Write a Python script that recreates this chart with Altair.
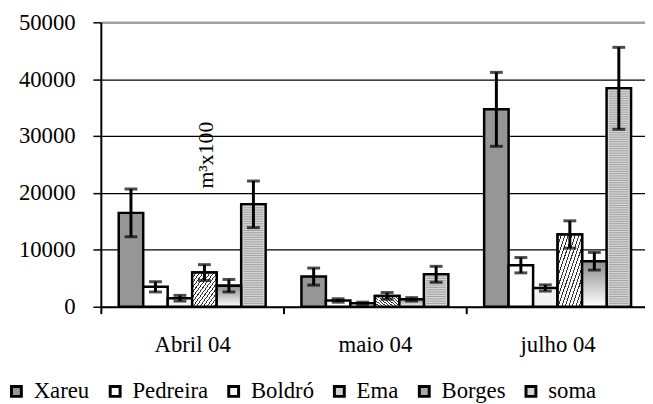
import altair as alt
import pandas as pd

months = ["Abril 04", "maio 04", "julho 04"]
series = ["Xareu", "Pedreira", "Boldró", "Ema", "Borges", "soma"]

xareu = [16500, 5300, 34700]
xareu_err = [4200, 1500, 6500]
pedreira = [3500, 1100, 7300]
pedreira_err = [900, 300, 1350]
boldro = [1500, 600, 3300]
boldro_err = [500, 200, 550]
ema = [6000, 1900, 12700]
ema_err = [1400, 600, 2400]
borges = [3700, 1300, 8000]
borges_err = [1100, 300, 1550]
soma = [18000, 5700, 38400]
soma_err = [4100, 1400, 7200]

y_ticks = [0, 10000, 20000, 30000, 40000, 50000]

table = {
    "Xareu": (xareu, xareu_err),
    "Pedreira": (pedreira, pedreira_err),
    "Boldró": (boldro, boldro_err),
    "Ema": (ema, ema_err),
    "Borges": (borges, borges_err),
    "soma": (soma, soma_err),
}
rows = []
for s in series:
    vals, errs = table[s]
    for m, v, e in zip(months, vals, errs):
        rows.append({"mes": m, "serie": s, "valor": v, "lo": v - e, "hi": v + e})
df = pd.DataFrame(rows)

FONT = "'Liberation Serif', 'Times New Roman', Times, serif"
legend_colors = ["#969696", "#ffffff", "#f3f3f3", "#d2d2d2", "#a8a8a8", "#d6d6d6"]

# hatch gradient for Ema
hatch_stops = []
N = 14
for i in range(N):
    a = i / N
    b = (i + 0.3) / N
    c = (i + 1) / N
    hatch_stops += [
        {"offset": a, "color": "#333333"},
        {"offset": b, "color": "#333333"},
        {"offset": b, "color": "#ffffff"},
        {"offset": c, "color": "#ffffff"},
    ]
ema_fill = {"gradient": "linear", "x1": 0, "y1": 0, "x2": 1, "y2": 1, "stops": hatch_stops}
borges_fill = {
    "gradient": "linear", "x1": 0, "y1": 0, "x2": 0, "y2": 1,
    "stops": [{"offset": 0, "color": "#8c8c8c"}, {"offset": 1, "color": "#ffffff"}],
}

x_scale = alt.Scale(domain=months, paddingInner=0, paddingOuter=0, range=[0, 555])
off_scale = alt.Scale(domain=series, paddingInner=0, paddingOuter=0.73)
y_scale = alt.Scale(domain=[0, 50000], nice=False)

x_axis = alt.Axis(
    title=None, tickBand="extent", labelAngle=0, labelFont=FONT, labelFontSize=23,
    labelColor="black", labelPadding=20, tickSize=7, tickColor="black", tickWidth=2,
    domainColor="black", domainWidth=2, grid=False,
)
y_axis = alt.Axis(
    title="m³x100", titleAngle=270, titleX=106, titleY=134, titleFont=FONT,
    titleFontSize=22, titleFontWeight="normal", titleColor="black",
    titleAlign="center", titleBaseline="middle",
    values=y_ticks, format="d", labelFont=FONT, labelFontSize=23, labelColor="black",
    labelPadding=18, tickSize=8, tickColor="black", tickWidth=1.5,
    domainColor="black", domainWidth=2, grid=True,
    gridColor={"condition": {"test": "datum.value >= 50000", "value": "#a0a0a0"}, "value": "black"},
    gridWidth={"condition": {"test": "datum.value >= 50000", "value": 2.5}, "value": 1.2},
)

def X():
    return alt.X("mes:N", scale=x_scale, sort=months, axis=x_axis)

def XO():
    return alt.XOffset("serie:N", scale=off_scale, sort=series)

def Y(field):
    return alt.Y(field, scale=y_scale, axis=y_axis)

base = alt.Chart(df)

bars = base.mark_bar(stroke="black", strokeWidth=2.5).encode(
    x=X(), xOffset=XO(), y=Y("valor:Q"),
    fill=alt.Fill(
        "serie:N", sort=series,
        scale=alt.Scale(domain=series, range=legend_colors),
        legend=alt.Legend(
            orient="none", legendX=-97, legendY=362, direction="horizontal", title=None,
            symbolType="square", symbolSize=100, symbolStrokeColor="black",
            symbolStrokeWidth=3, labelFont=FONT, labelFontSize=23, labelColor="black",
            columnPadding=14, labelOffset=6, padding=0,
        ),
    ),
)

ema_bars = base.transform_filter(alt.datum.serie == "Ema").mark_bar(
    stroke="black", strokeWidth=2.5, fill=ema_fill
).encode(x=X(), xOffset=XO(), y=Y("valor:Q"))

borges_bars = base.transform_filter(alt.datum.serie == "Borges").mark_bar(
    stroke="black", strokeWidth=2.5, fill=borges_fill
).encode(x=X(), xOffset=XO(), y=Y("valor:Q"))

soma_stripes = base.transform_filter(alt.datum.serie == "soma").transform_calculate(
    faixa="sequence(200, datum.valor - 100, 400)"
).transform_flatten(["faixa"]).mark_tick(
    color="#8a8a8a", thickness=1, size=20
).encode(x=X(), xOffset=XO(), y=Y("faixa:Q"))

err_rule = base.mark_rule(color="black", strokeWidth=3).encode(
    x=X(), xOffset=XO(), y=Y("lo:Q"), y2="hi:Q"
)
cap_lo = base.mark_tick(color="black", thickness=3, size=13).encode(
    x=X(), xOffset=XO(), y=Y("lo:Q")
)
cap_hi = base.mark_tick(color="black", thickness=3, size=13).encode(
    x=X(), xOffset=XO(), y=Y("hi:Q")
)

chart = alt.layer(
    bars, ema_bars, borges_bars, soma_stripes, err_rule, cap_lo, cap_hi
).properties(
    width=551, height=288,
    autosize=alt.AutoSizeParams(type="none"),
    padding={"left": 94, "top": 12, "right": 0, "bottom": 96},
    background="white",
).configure(font=FONT).configure_view(stroke=None).configure_legend(
    labelFont=FONT, labelFontSize=23, labelColor="black"
).configure_axis(labelFont=FONT, titleFont=FONT)

chart.save("out.html", embed_options={"renderer": "svg", "actions": False})
